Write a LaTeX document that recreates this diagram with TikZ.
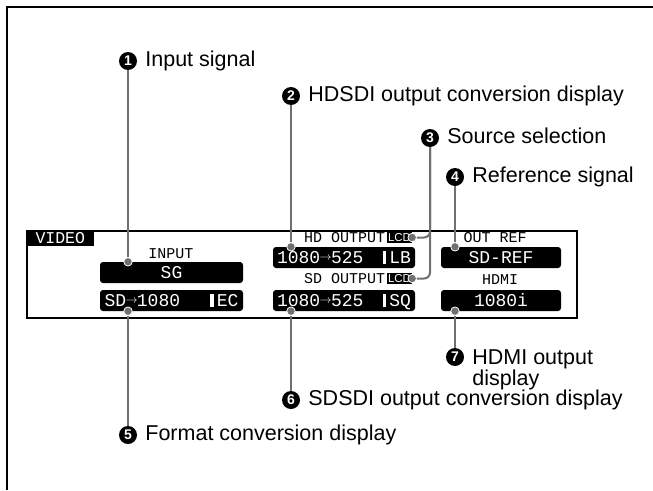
\documentclass[tikz,border=0pt]{standalone}
\usepackage{fontspec}
\setmainfont{Liberation Sans}
\newfontfamily\lcdfont{Liberation Mono}
\usepackage{tikz}
\usetikzlibrary{positioning}
\definecolor{leadgray}{HTML}{707070}
\newcommand{\lcdrow}[3]{\makebox[#1]{#2\hfill\rule{3.5pt}{12.5pt}\,#3}}
\newcommand{\lcdto}{\makebox[10.8pt]{\raisebox{3pt}{\fontsize{12}{12}\selectfont$\rightarrow$}}}

\begin{document}
\begin{tikzpicture}[x=1pt,y=-1pt,
  lead/.style={draw=leadgray,line width=2pt},
  leaddot/.style={circle,fill=leadgray,draw=white,line width=0.8pt,inner sep=0pt,minimum size=8.5pt},
  num/.style={circle,fill=black,text=white,inner sep=0pt,minimum size=18pt,font=\fontsize{14}{14}\selectfont\bfseries},
  callout/.style={inner sep=0pt,font=\fontsize{21.5}{19.5}\selectfont},
  calltxt/.style={callout,text height=15.5pt,text depth=4.5pt},
  paneltxt/.style={inner sep=0pt,text height=10pt,text depth=0pt,font=\lcdfont\fontsize{15}{15}\selectfont},
  lcdbox/.style={fill=black,text=white,rounded corners=3pt,minimum height=21pt,inner xsep=3pt,inner ysep=0pt,text height=12.5pt,text depth=0pt,font=\lcdfont\fontsize{18}{18}\selectfont},
  tag/.style={fill=black,text=white,inner sep=0pt}]
\useasboundingbox (0,0) rectangle (653,490);
% page frame
\draw[line width=1.8pt] (7,490) -- (7,7) -- (653,7);

% display panel
\node[draw,line width=1.8pt,minimum width=550pt,minimum height=87pt,inner sep=0pt] (panel) at (302,274.5) {};
\node[tag,anchor=north west,minimum width=68pt,minimum height=15.5pt,font=\lcdfont\fontsize{16.5}{16.5}\selectfont] (vid) at (panel.north west) {VIDEO};

% input column
\node[paneltxt] (inp) at (171,253) {INPUT};
\node[lcdbox,minimum width=143pt] (sg) at (171.5,272.5) {SG};
\node[lcdbox,minimum width=143pt] (cv) at (171.5,300.5) {\lcdrow{134pt}{SD\lcdto1080}{EC}};

% output columns
\node[tag,minimum width=25pt,minimum height=11.5pt,font=\fontsize{11.5}{11.5}\selectfont] (hdlcd) at (399.5,237.5) {LCD};
\node[paneltxt,left=1.5pt of hdlcd] (hdout) {HD OUTPUT};
\node[lcdbox,minimum width=142pt] (hdbox) at (344,257.5) {\lcdrow{134pt}{1080\lcdto525}{LB}};
\node[tag,minimum width=25pt,minimum height=11.5pt,font=\fontsize{11.5}{11.5}\selectfont] (sdlcd) at (399.5,278.5) {LCD};
\node[paneltxt,left=1.5pt of sdlcd] (sdout) {SD OUTPUT};
\node[lcdbox,minimum width=142pt] (sdbox) at (344,300.5) {\lcdrow{134pt}{1080\lcdto525}{SQ}};

% reference / hdmi column
\node[paneltxt] (outref) at (495,237.5) {OUT REF};
\node[lcdbox,minimum width=120pt] (refbox) at (501,257.5) {SD-REF};
\node[paneltxt] (hdmi) at (500,279.5) {HDMI};
\node[lcdbox,minimum width=120pt] (hdmibox) at (501,300.5) {1080i};

% callouts
\node[num] (n1) at (128,61) {1};
\node[calltxt,right=8pt of n1] (t1) {Input signal};
\node[num] (n2) at (291,96) {2};
\node[calltxt,right=8pt of n2] (t2) {HDSDI output conversion display};
\node[num] (n3) at (430,138) {3};
\node[calltxt,right=8pt of n3] (t3) {Source selection};
\node[num] (n4) at (455,177) {4};
\node[calltxt,right=8pt of n4] (t4) {Reference signal};
\node[num] (n5) at (128,435) {5};
\node[calltxt,right=8pt of n5] (t5) {Format conversion display};
\node[num] (n6) at (291,400) {6};
\node[calltxt,right=8pt of n6] (t6) {SDSDI output conversion display};
\node[num] (n7) at (455,357) {7};
\node[callout,align=left,anchor=north west] (t7) at ([xshift=8pt,yshift=7.4pt]n7.east) {HDMI output\\display};

% lead dots
\node[leaddot] (d1) at (n1 |- sg.north) {};
\node[leaddot] (d2) at (n2 |- hdbox.north) {};
\node[leaddot] (d3a) at (hdlcd.east) {};
\node[leaddot] (d3b) at (sdlcd.east) {};
\node[leaddot] (d4) at (n4 |- refbox.north) {};
\node[leaddot] (d5) at (n5 |- cv.south) {};
\node[leaddot] (d6) at (n6 |- sdbox.south) {};
\node[leaddot] (d7) at (n7 |- hdmibox.south) {};

% leads
\draw[lead] (n1) -- (d1);
\draw[lead] (n2) -- (d2);
\draw[lead,rounded corners=6pt] (n3) |- (d3a);
\draw[lead,rounded corners=6pt] (n3) |- (d3b);
\draw[lead] (n4) -- (d4);
\draw[lead] (d5) -- (n5);
\draw[lead] (d6) -- (n6);
\draw[lead] (d7) -- (n7);
\end{tikzpicture}
\end{document}
